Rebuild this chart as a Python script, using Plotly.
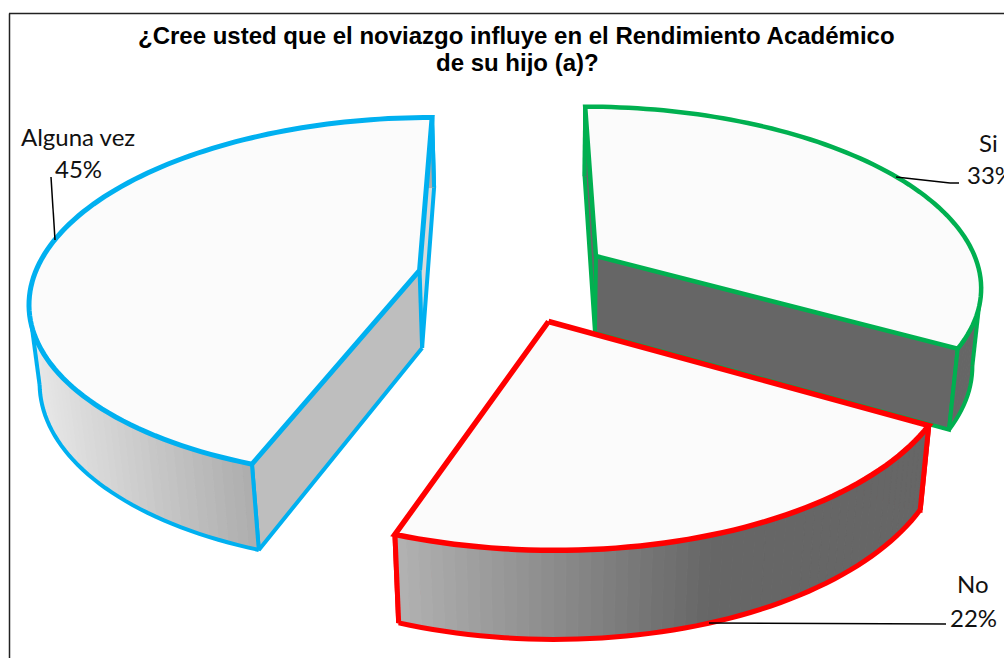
import math
import plotly.graph_objects as go

# ---- data ----
categories = ["Si", "No", "Alguna vez"]
values = [33.3, 22.2, 44.5]
percent_labels = ["33%", "22%", "45%"]
title_lines = ["¿Cree usted que el noviazgo influye en el Rendimiento Académico", "de su hijo (a)?"]
sheet_heading = "GRAFICO Nro. 10"

# ---- styles ----
border_colors = {"Si": "#00B050", "No": "#FF0000", "Alguna vez": "#00B0F0"}
border_widths = {"Si": 4.5, "No": 5.5, "Alguna vez": 5}
wall_widths = {"Si": 4, "No": 5, "Alguna vez": 4}
START_DEG = 0.0
EXPLODE = 0.25
XV, YV, DEPTH, KR, FR = 514.0, -882.0, 1160.0, 0.154, 386.0
VX, VY, LAM = 548.0, 4174.0, 0.0204


def top(X, Y):
    u = 1 + KR * Y
    return XV + FR * X / u, YV + DEPTH / u, u


def bottom(X, Y):
    x, y, u = top(X, Y)
    t = LAM / (u + LAM)
    return x + t * (VX - x), y + t * (VY - y)


def grey(v):
    v = int(round(v))
    return f"rgb({v},{v},{v})"


def ramp(x, x0, x1, g0, g1):
    f = min(1, max(0, (x - x0) / (x1 - x0)))
    return grey(g0 + (g1 - g0) * f)


wall_shade = {
    "Si": lambda x: grey(102),
    "No": lambda x: ramp(x, 395, 710, 178, 102),
    "Alguna vez": lambda x: ramp(x, 30, 253, 232, 172),
}
start_wall = {"Si": grey(102), "No": grey(102), "Alguna vez": grey(190)}
end_wall = {"Si": grey(102), "No": grey(102), "Alguna vez": grey(218)}
TOP_FILL = "#FBFBFB"

fig = go.Figure()


def poly(xs, ys, fill=None, line=None, width=0):
    fig.add_trace(go.Scatter(
        x=xs, y=ys, mode="lines", hoverinfo="skip", showlegend=False,
        fill="toself" if fill else None, fillcolor=fill,
        line=dict(color=line or fill or "rgba(0,0,0,0)", width=width, simplify=False),
    ))


total = sum(values)
spans = []
a = START_DEG
for name, v in zip(categories, values):
    spans.append((name, a, a + 360 * v / total))
    a += 360 * v / total

# drawn from back to front
for name, a0, a1 in sorted(spans, key=lambda s: {"Alguna vez": 0, "Si": 1, "No": 2}[s[0]]):
    col = border_colors[name]
    LW = border_widths[name]
    WW = wall_widths[name]
    mid = math.radians((a0 + a1) / 2)
    ox, oy = EXPLODE * math.sin(mid), EXPLODE * math.cos(mid)
    n = int((a1 - a0) / 1.5)
    angs = [math.radians(a0 + (a1 - a0) * i / n) for i in range(n + 1)]
    rim = [(ox + math.sin(t), oy + math.cos(t)) for t in angs]
    tx, ty = zip(*[top(*p)[:2] for p in rim])
    bx, by = zip(*[bottom(*p) for p in rim])
    ax, ay = top(ox, oy)[:2]
    abx, aby = bottom(ox, oy)

    # radial walls
    poly([ax, tx[0], bx[0], abx, ax], [ay, ty[0], by[0], aby, ay], fill=start_wall[name])
    poly([ax, tx[-1], bx[-1], abx, ax], [ay, ty[-1], by[-1], aby, ay], fill=end_wall[name])
    poly([tx[0], bx[0], abx], [ty[0], by[0], aby], line=col, width=WW)
    poly([tx[-1], bx[-1], abx], [ty[-1], by[-1], aby], line=col, width=WW)
    poly([ax, abx], [ay, aby], line=col, width=WW)

    # outer wall, in thin strips
    for i in range(n):
        xm = (tx[i] + tx[i + 1]) / 2
        c = wall_shade[name](xm)
        poly([tx[i], tx[i + 1], bx[i + 1], bx[i], tx[i]],
             [ty[i], ty[i + 1], by[i + 1], by[i], ty[i]], fill=c, line=c, width=1)

    # lower rim, only from where the side of the disc turns away
    ext = None
    if name == "Si":
        ext = max(range(n + 1), key=lambda i: tx[i])
        poly(list(bx[ext:]), list(by[ext:]), line=col, width=WW)
    elif name == "Alguna vez":
        ext = min(range(n + 1), key=lambda i: tx[i])
        poly(list(bx[:ext + 1]), list(by[:ext + 1]), line=col, width=WW)
    else:
        poly(list(bx), list(by), line=col, width=WW)
    if ext:
        poly([tx[ext], bx[ext]], [ty[ext], by[ext]], line=col, width=WW)
    poly([tx[-1], bx[-1]], [ty[-1], by[-1]], line=col, width=WW)
    poly([tx[0], bx[0]], [ty[0], by[0]], line=col, width=WW)

    # top face
    poly([ax] + list(tx) + [ax], [ay] + list(ty) + [ay], fill=TOP_FILL, line=col, width=LW)

# chart frame and leader lines
shapes = [
    dict(type="line", x0=9.5, y0=658, x1=9.5, y1=13.5, line=dict(color="#222", width=1.5)),
    dict(type="line", x0=9, y0=13.5, x1=1004, y1=13.5, line=dict(color="#222", width=1.5)),
]
for xs, ys in [((51, 55), (177, 240)), ((896, 950), (177, 183)), ((950, 959), (183, 183)), ((709, 946), (623, 624))]:
    shapes.append(dict(type="line", x0=xs[0], y0=ys[0], x1=xs[1], y1=ys[1],
                       line=dict(color="#000", width=1.5)))

LABEL_FONT = dict(family="Lato", size=24, color="#111")
TITLE_FONT = dict(family="Liberation Sans", size=24, color="#000")
ann = [
    dict(x=78, y=136, text=categories[2], font=LABEL_FONT, xanchor="center"),
    dict(x=78, y=168, text=percent_labels[2], font=LABEL_FONT, xanchor="center"),
    dict(x=988, y=142, text=categories[0], font=LABEL_FONT, xanchor="center"),
    dict(x=965, y=174, text=percent_labels[0], font=LABEL_FONT, xanchor="left"),
    dict(x=973, y=583, text=categories[1], font=LABEL_FONT, xanchor="center"),
    dict(x=973, y=617, text=percent_labels[1], font=LABEL_FONT, xanchor="center"),
    dict(x=516.5, y=35, text=f"<b>{title_lines[0]}</b>", font=TITLE_FONT, xanchor="center"),
    dict(x=517.5, y=62, text=f"<b>{title_lines[1]}</b>", font=TITLE_FONT, xanchor="center"),
    dict(x=510, y=-7, text=f"<b>{sheet_heading}</b>", font=dict(family="Liberation Sans", size=25, color="#000"), xanchor="center"),
]
for d in ann:
    d.update(showarrow=False, yanchor="middle", xref="x", yref="y")

fig.update_layout(
    width=1004, height=658, margin=dict(l=0, r=0, t=0, b=0),
    paper_bgcolor="white", plot_bgcolor="white",
    xaxis=dict(visible=False, range=[0, 1004], fixedrange=True),
    yaxis=dict(visible=False, range=[658, 0], fixedrange=True),
    shapes=shapes, annotations=ann, showlegend=False,
)
fig.write_html("out.html", config={"displayModeBar": False},
               post_script="document.body.style.margin='0';document.body.style.overflow='hidden';")
